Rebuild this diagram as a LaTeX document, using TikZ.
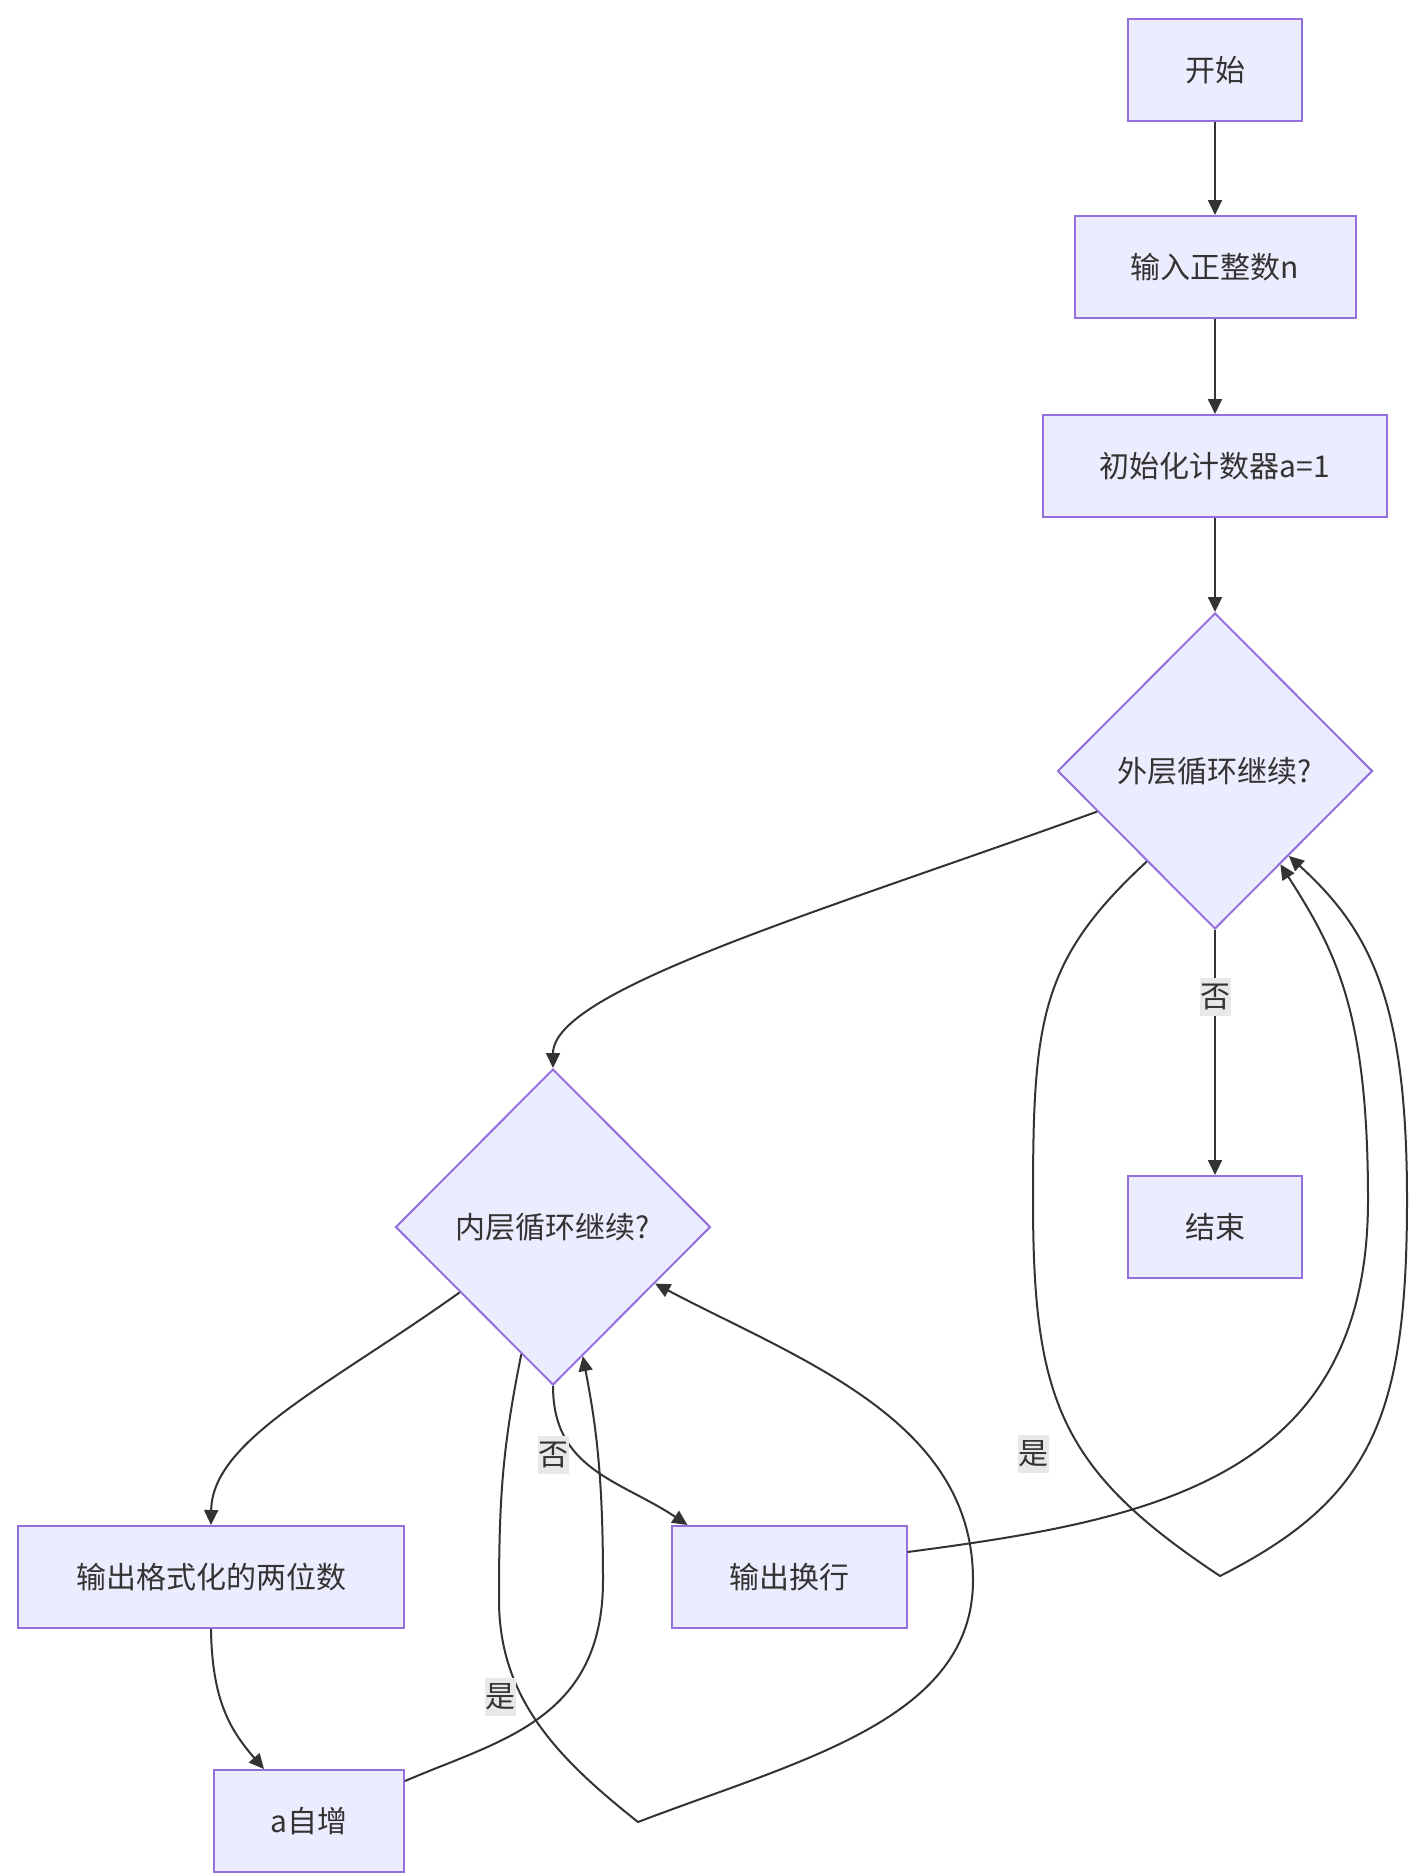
\documentclass[tikz,border=0pt]{standalone}
\usepackage{fontspec}
\setmainfont{Noto Sans CJK SC}
\usepackage{tikz}
\usetikzlibrary{arrows.meta,shapes.geometric,positioning,calc}
\definecolor{boxfill}{HTML}{ECECFF}
\definecolor{boxline}{HTML}{9370DB}
\definecolor{edgeline}{HTML}{333333}
\definecolor{lblfill}{HTML}{E8E8E8}

\begin{document}
\begin{tikzpicture}[x=1pt,y=-1pt,
  box/.style={draw=boxline,fill=boxfill,line width=2pt,text=edgeline,font=\fontsize{30}{36}\selectfont,inner sep=0pt,minimum height=102pt},
  cond/.style={diamond,draw=boxline,fill=boxfill,line width=2pt,text=edgeline,font=\fontsize{30}{36}\selectfont,inner sep=0pt,minimum width=315pt,minimum height=316pt},
  edge/.style={draw=edgeline,line width=2pt,-{Triangle[length=15pt,width=14pt]}},
  yesno/.style={fill=lblfill,text=edgeline,font=\fontsize{30}{36}\selectfont,inner xsep=0.5pt,inner ysep=3pt,text height=26pt,text depth=6pt}]
\useasboundingbox (0,0) rectangle (1424,1876);
\node[box,minimum width=174pt] (start) at (1215,70) {开始};
\node[box,minimum width=281pt] (readn) at (1215,267) {输入正整数n};
\node[box,minimum width=344pt] (init) at (1215,466) {初始化计数器a=1};
\node[cond] (outer) at (1215,771) {外层循环继续?};
\node[box,minimum width=174pt] (finish) at (1215,1227) {结束};
\node[cond] (inner) at (553,1227) {内层循环继续?};
\node[box,minimum width=386pt] (printnum) at (211,1577) {输出格式化的两位数};
\node[box,minimum width=235pt] (newline) at (789,1577) {输出换行};
\node[box,minimum width=190pt] (incr) at (309,1821) {a自增};
\draw[edge] (start) -- (readn);
\draw[edge] (readn) -- (init);
\draw[edge] (init) -- (outer);
\draw[edge] (outer.199) .. controls (820,912) and (553,990) .. (inner.north);
\draw[edge] (outer) -- (finish);
\draw[edge] (outer.233) .. controls (1040,960) and (1033,1020) .. (1033,1200)
  .. controls (1033,1400) and (1060,1470) .. (1220,1576)
  .. controls (1370,1500) and (1407,1420) .. (1407,1200)
  .. controls (1407,1000) and (1370,930) .. (outer.-49);
\draw[edge] ([yshift=25pt]newline.east) .. controls (1150,1520) and (1368,1480) .. (1368,1200)
  .. controls (1368,1010) and (1335,950) .. (outer.-55);
\draw[edge] (inner.215) .. controls (330,1385) and (212,1440) .. (printnum.north);
\draw[edge] (inner.south) .. controls (553,1470) and (620,1480) .. ([xshift=17pt]newline.north west);
\draw[edge] (printnum.south) .. controls (212,1700) and (230,1730) .. ([xshift=51pt]incr.north west);
\draw[edge] ([yshift=-12pt]incr.north east) .. controls (500,1740) and (603,1720) .. (603,1580)
  .. controls (603,1470) and (595,1420) .. (inner.-77);
\draw[edge] (inner.256) .. controls (502,1450) and (499,1500) .. (499,1600)
  .. controls (499,1700) and (560,1760) .. (638,1822)
  .. controls (800,1760) and (973,1720) .. (973,1580)
  .. controls (973,1420) and (800,1360) .. (inner.-29);
\node[yesno] (no1) at (1215,997) {否};
\node[yesno] (yes1) at (1033,1454) {是};
\node[yesno] (no2) at (553,1455) {否};
\node[yesno] (yes2) at (500,1697) {是};
\end{tikzpicture}
\end{document}
